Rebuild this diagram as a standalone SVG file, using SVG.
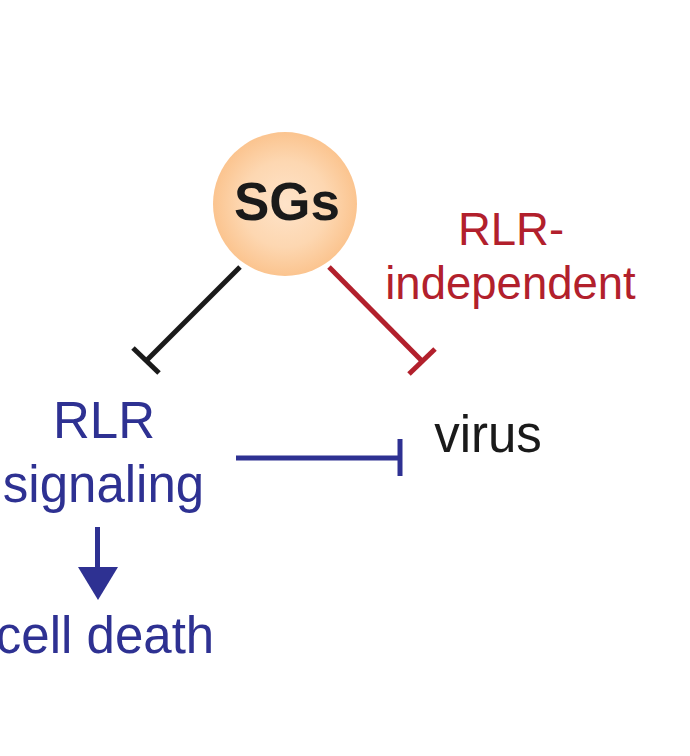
<svg xmlns="http://www.w3.org/2000/svg" width="690" height="756" viewBox="0 0 690 756">
<style>
text{font-family:"Liberation Sans",Arial,sans-serif;font-size:51px;text-anchor:middle}
.b{fill:#2e3192}.r{fill:#b2202c}.k{fill:#1a1a1a}
.red{font-size:45.5px}
.lb{stroke:#2e3192}.lr{stroke:#b2202c}.lk{stroke:#1a1a1a}
line{stroke-width:5;fill:none}
</style>
<defs><radialGradient id="g" cx="50%" cy="50%" r="50%"><stop offset="0" stop-color="#fee3c9"/><stop offset="0.6" stop-color="#fdd7b1"/><stop offset="1" stop-color="#fbc48f"/></radialGradient></defs>
<rect width="690" height="756" fill="#fff"/>
<g id="connectors">
<line class="lk" x1="240" y1="267" x2="146" y2="361"/><line class="lk" x1="133" y1="348" x2="159" y2="373"/>
<line class="lr" x1="329" y1="267" x2="422" y2="361"/><line class="lr" x1="435" y1="349" x2="409" y2="374"/>
<line class="lb" x1="236" y1="458" x2="400" y2="458"/><line class="lb" x1="400" y1="439" x2="400" y2="476"/>
<line class="lb" x1="97.500" y1="527" x2="97.500" y2="570"/><polygon class="b" points="78,567 118,567 98,600"/>
</g>
<g id="sgs"><circle cx="285" cy="204" r="72" fill="url(#g)"/><text class="k" x="287" y="220" font-weight="bold" style="font-size:53px">SGs</text></g>
<g id="rlr-independent"><text class="r red" x="511" y="245">RLR-</text><text class="r red" x="510.500" y="299">independent</text></g>
<g id="rlr-signaling"><text class="b" x="104" y="438">RLR</text><text class="b" x="103.500" y="502">signaling</text></g>
<g id="virus"><text class="k" x="488" y="452">virus</text></g>
<g id="cell-death"><text class="b" x="105" y="653">cell death</text></g>
</svg>
